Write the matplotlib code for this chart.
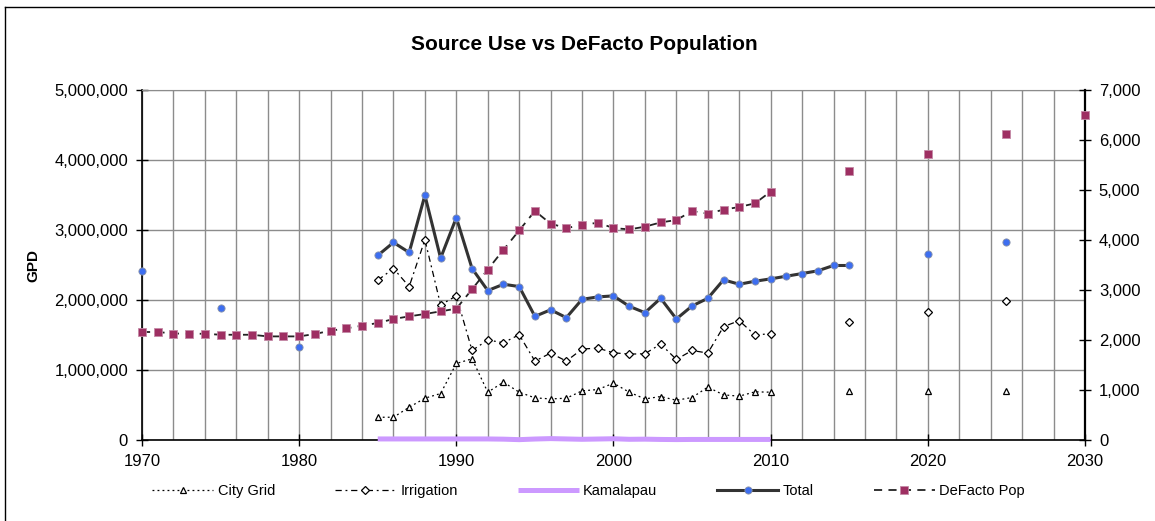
"""Source Use vs DeFacto Population: GPD by source (left axis) with de facto population (right axis)."""

import matplotlib

matplotlib.use("Agg")
import matplotlib.pyplot as plt
import numpy as np
from matplotlib.lines import Line2D
from matplotlib.ticker import FuncFormatter, MultipleLocator

plt.rcParams["font.family"] = ["Liberation Sans", "DejaVu Sans"]

# ---------- data ----------
CITY_YEARS = list(range(1985, 2011)) + [2015, 2020, 2025]
CITY_GPD = [325000, 325000, 468000, 597000, 664000, 1093000, 1160000, 683000, 826000, 683000,
            602000, 587000, 597000, 702000, 721000, 812000, 683000, 587000, 621000, 568000,
            607000, 755000, 645000, 626000, 688000, 683000,
            700000, 700000, 700000]

IRR_YEARS = list(range(1985, 2011)) + [2015, 2020, 2025]
IRR_GPD = [2282000, 2450000, 2192000, 2861000, 1930000, 2059000, 1279000, 1428000, 1390000, 1504000,
           1127000, 1242000, 1127000, 1299000, 1313000, 1246000, 1227000, 1232000, 1371000, 1151000,
           1279000, 1242000, 1619000, 1705000, 1500000, 1519000,
           1686000, 1834000, 1987000]

KAM_YEARS = list(range(1985, 2011))
KAM_GPD = [15000, 15000, 15000, 15000, 15000, 15000, 15000, 15000, 12000, 5000,
           14000, 20000, 15000, 10000, 14000, 18000, 10000, 12000, 8000, 6000,
           8000, 8000, 8000, 8000, 8000, 8000]

TOTAL_YEARS = [1970, 1975, 1980] + list(range(1985, 2016)) + [2020, 2025]
TOTAL_GPD = [2417000, 1891000, 1332000,
             2636000, 2822000, 2679000, 3496000, 2598000, 3176000, 2450000, 2135000, 2225000, 2192000,
             1766000, 1860000, 1748000, 2010000, 2044000, 2059000, 1910000, 1819000, 2024000, 1729000,
             1915000, 2024000, 2288000, 2225000, 2268000, 2302000, 2340000, 2378000, 2417000, 2493000,
             2493000,
             2660000, 2827000]

POP_YEARS = list(range(1970, 2011)) + [2015, 2020, 2025, 2030]
POP = [2160, 2160, 2130, 2125, 2125, 2105, 2105, 2105, 2072, 2072,
       2072, 2120, 2186, 2233, 2286, 2340, 2420, 2473, 2520, 2573,
       2627, 3014, 3410, 3805, 4192, 4580, 4326, 4239, 4299, 4346,
       4239, 4212, 4266, 4352, 4399, 4580, 4527, 4607, 4660, 4733,
       4968,
       5389, 5722, 6117, 6505]

TITLE = "Source Use vs DeFacto Population"
YLABEL = "GPD"

# ---------- style ----------
FIG_W, FIG_H, DPI = 11.55, 5.21, 100
AX_RECT = [142 / 1155, 1 - 440 / 521, (1085 - 142) / 1155, (440 - 90) / 521]
GRID_C = "#8c8c8c"
TOTAL_LINE_C = "#333333"
TOTAL_MARK_C = "#3d6ef0"
POP_C = "#9e2f62"
KAM_C = "#cc99ff"
TICK_FS = 12


def with_gaps(years, vals):
    """Insert NaN wherever the year sequence jumps, so separate runs stay unconnected."""
    xs, ys = [], []
    for i, (x, y) in enumerate(zip(years, vals)):
        if i > 0 and x - years[i - 1] > 1:
            xs.append(np.nan)
            ys.append(np.nan)
        xs.append(x)
        ys.append(y)
    return np.array(xs, dtype=float), np.array(ys, dtype=float)


fig = plt.figure(figsize=(FIG_W, FIG_H), dpi=DPI)
ax = fig.add_axes(AX_RECT)

x, y = with_gaps(CITY_YEARS, CITY_GPD)
ax.plot(x, y, color="black", lw=0.9, ls=(0, (1.5, 2.5)), marker="^", ms=4.5,
        mfc="white", mec="black", mew=0.9, label="City Grid", zorder=3, clip_on=False)
x, y = with_gaps(IRR_YEARS, IRR_GPD)
ax.plot(x, y, color="black", lw=0.9, ls=(0, (5, 3, 1.5, 3)), marker="D", ms=3.8,
        mfc="white", mec="black", mew=0.9, label="Irrigation", zorder=3, clip_on=False)
x, y = with_gaps(KAM_YEARS, KAM_GPD)
ax.plot(x, y, color=KAM_C, lw=3.6, solid_capstyle="butt", label="Kamalapau", zorder=4,
        clip_on=False)
x, y = with_gaps(TOTAL_YEARS, TOTAL_GPD)
ax.plot(x, y, color=TOTAL_LINE_C, lw=2.2, marker="o", ms=5.2, mfc=TOTAL_MARK_C,
        mec="#8a93a8", mew=0.6, label="Total", zorder=5, clip_on=False)

ax.set_xlim(1970, 2030)
ax.set_ylim(0, 5000000)
ax.xaxis.set_major_locator(MultipleLocator(10))
ax.xaxis.set_minor_locator(MultipleLocator(2))
ax.yaxis.set_major_locator(MultipleLocator(1000000))
ax.yaxis.set_major_formatter(FuncFormatter(lambda v, p: f"{v:,.0f}"))
ax.grid(True, which="major", axis="y", color=GRID_C, lw=1.0)
ax.grid(True, which="both", axis="x", color=GRID_C, lw=1.0)
ax.set_axisbelow(True)
ax.tick_params(axis="both", which="major", direction="inout", length=8, width=1,
               labelsize=TICK_FS, colors="black")
ax.tick_params(axis="x", which="major", pad=6)
ax.tick_params(axis="x", which="minor", length=0)
ax.tick_params(axis="y", pad=6)
ax.spines["top"].set_color(GRID_C)
ax.spines["right"].set_visible(False)
for s in ("left", "bottom"):
    ax.spines[s].set_linewidth(1.2)
ax.set_ylabel(YLABEL, fontsize=11, fontweight="bold")
ax.yaxis.set_label_coords(-102 / 943, 0.5)

ax2 = ax.twinx()
x, y = with_gaps(POP_YEARS, POP)
ax2.plot(x, y, color="#222222", lw=1.3, ls=(0, (4.5, 3.5)), marker="s", ms=5.8,
         mfc=POP_C, mec="#c48aa6", mew=0.6, label="DeFacto Pop", zorder=6, clip_on=False)
ax2.set_ylim(0, 7000)
ax2.yaxis.set_major_locator(MultipleLocator(1000))
ax2.yaxis.set_major_formatter(FuncFormatter(lambda v, p: f"{v:,.0f}"))
ax2.tick_params(axis="y", direction="inout", length=8, width=1, labelsize=TICK_FS, pad=6)
for s in ("top", "left", "bottom"):
    ax2.spines[s].set_visible(False)
ax2.spines["right"].set_linewidth(1.6)

fig.text(0.506, 1 - 45 / 521, TITLE, ha="center", va="center", fontsize=15, fontweight="bold")

h1, l1 = ax.get_legend_handles_labels()
h2, l2 = ax2.get_legend_handles_labels()
fig.legend(h1 + h2, l1 + l2, loc="center", bbox_to_anchor=(0.5095, 1 - 491 / 521), ncol=5,
           frameon=False, fontsize=10.5, handlelength=4.2, handletextpad=0.3,
           columnspacing=4.1)

# chart area frame (left and top edges visible in the reference)
fig.add_artist(Line2D([5 / 1155, 5 / 1155], [0, 1 - 7 / 521], transform=fig.transFigure,
                      color="black", lw=1.0))
fig.add_artist(Line2D([5 / 1155, 1], [1 - 7 / 521, 1 - 7 / 521], transform=fig.transFigure,
                      color="black", lw=1.0))

fig.savefig("out.png", dpi=DPI)
